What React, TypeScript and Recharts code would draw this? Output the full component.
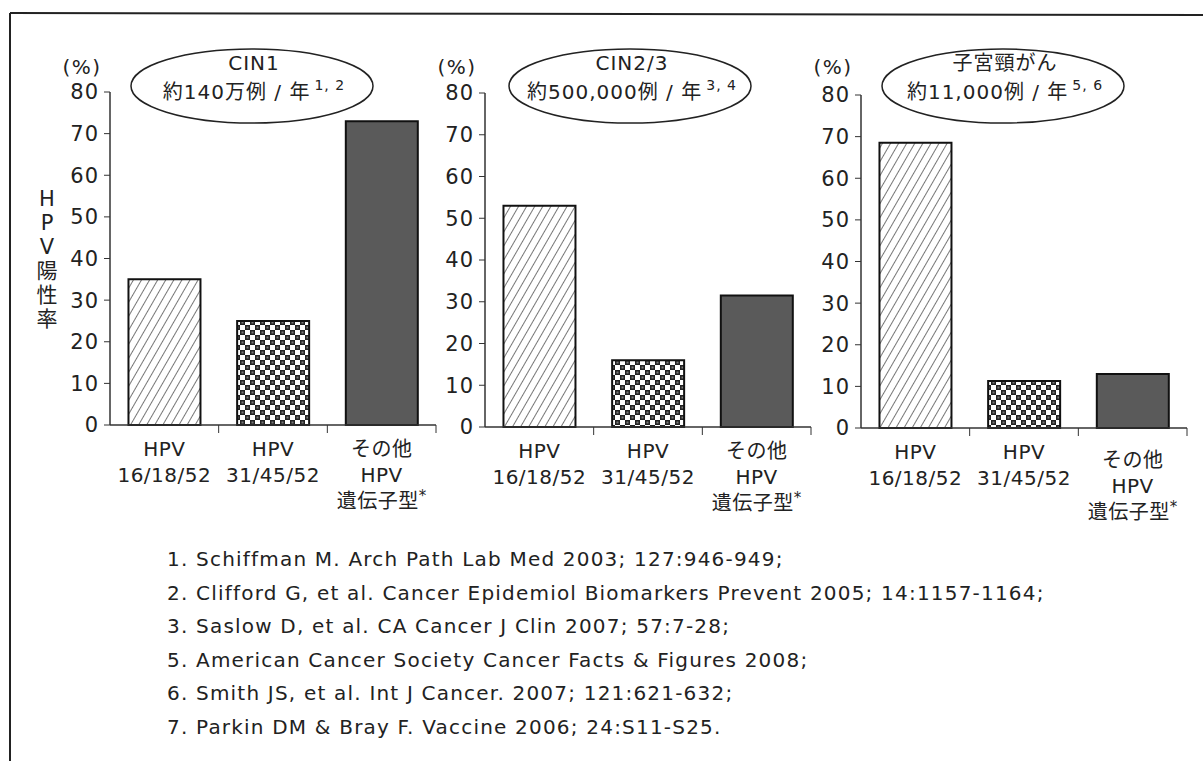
import React from "react";
import { BarChart, Bar, XAxis, YAxis, Cell } from "recharts";

const categories = ["HPV 16/18/52", "HPV 31/45/52", "その他 HPV 遺伝子型*"];
const cin1Values = [35, 25, 73];
const cin23Values = [53, 16, 31.5];
const cancerValues = [68.5, 11.3, 13];
const yTicks = [0, 10, 20, 30, 40, 50, 60, 70, 80];

const panelTitles = ["CIN1", "CIN2/3", "子宮頸がん"];
const panelCounts = ["約140万例 / 年", "約500,000例 / 年", "約11,000例 / 年"];
const panelRefs = ["1, 2", "3, 4", "5, 6"];
const yLabelChars = ["H", "P", "V", "陽", "性", "率"];

const references = [
  "1. Schiffman M. Arch Path Lab Med 2003; 127:946-949;",
  "2. Clifford G, et al. Cancer Epidemiol Biomarkers Prevent 2005; 14:1157-1164;",
  "3. Saslow D, et al. CA Cancer J Clin 2007; 57:7-28;",
  "5. American Cancer Society Cancer Facts & Figures 2008;",
  "6. Smith JS, et al. Int J Cancer. 2007; 121:621-632;",
  "7. Parkin DM & Bray F. Vaccine 2006; 24:S11-S25.",
];

const font = "'DejaVu Sans', 'Noto Sans CJK JP', sans-serif";
const ink = "#222";

// layout of the three panels (chart box left, top margin, height)
const panels = [
  { values: cin1Values, left: 0, top: 92, height: 520, ellipseX: 252, lastDrop: 0 },
  { values: cin23Values, left: 375, top: 93, height: 522, ellipseX: 630, lastDrop: 0 },
  { values: cancerValues, left: 751, top: 95, height: 523, ellipseX: 1003, lastDrop: 8 },
];
const chartWidth = 451;
const axisWidth = 110;
const rightMargin = 15;
const bandWidth = (chartWidth - axisWidth - rightMargin) / categories.length;

function CategoryTick(props: any) {
  const { x, y, payload, index, drop } = props;
  const lines = String(payload.value).split(" ");
  const edge = x + bandWidth / 2;
  const dy = index === categories.length - 1 ? drop : 0;
  return (
    <g>
      <line x1={edge} y1={y} x2={edge} y2={y + 8} stroke="#333" strokeWidth={1} />
      {lines.map((t, i) => (
        <text
          key={i}
          x={x}
          y={y + 31 + dy + i * 26}
          textAnchor="middle"
          fontSize={20}
          letterSpacing={0.5}
          fill={ink}
          fontFamily={font}
        >
          {t.endsWith("*") ? (
            <>
              {t.slice(0, -1)}
              <tspan dy={-7} fontSize={15}>*</tspan>
            </>
          ) : (
            t
          )}
        </text>
      ))}
    </g>
  );
}

function Panel({ idx }: { idx: number }) {
  const p = panels[idx];
  const data = categories.map((name, i) => ({ name, value: p.values[i] }));
  const fills = [`url(#hatch${idx})`, `url(#checker${idx})`, "#5a5a5a"];
  return (
    <div style={{ position: "absolute", left: p.left, top: 0 }}>
      <BarChart
        width={chartWidth}
        height={p.height}
        data={data}
        margin={{ top: p.top, right: rightMargin, bottom: 0, left: 0 }}
        barCategoryGap="17%"
      >
        <defs>
          <pattern id={`hatch${idx}`} patternUnits="userSpaceOnUse" width={7} height={10} patternTransform="rotate(30)">
            <rect width={7} height={10} fill="#fff" />
            <line x1={3.5} y1={0} x2={3.5} y2={10} stroke="#777" strokeWidth={1} />
          </pattern>
          <pattern id={`checker${idx}`} patternUnits="userSpaceOnUse" width={10} height={10}>
            <rect width={10} height={10} fill="#fff" />
            <rect x={0} y={0} width={5} height={5} fill="#222" />
            <rect x={5} y={5} width={5} height={5} fill="#222" />
            <rect x={1.5} y={1.5} width={2} height={2} fill="#777" />
            <rect x={6.5} y={6.5} width={2} height={2} fill="#777" />
          </pattern>
        </defs>
        <XAxis
          dataKey="name"
          height={95}
          interval={0}
          axisLine={{ stroke: "#333", strokeWidth: 1.5 }}
          tickLine={false}
          tickSize={0}
          tickMargin={0}
          tick={(tp: any) => <CategoryTick {...tp} drop={p.lastDrop} />}
        />
        <YAxis
          domain={[0, 80]}
          ticks={yTicks}
          interval={0}
          width={axisWidth}
          axisLine={{ stroke: "#333", strokeWidth: 1.5 }}
          tickLine={{ stroke: "#333" }}
          tickSize={6}
          tickMargin={5}
          tick={{ fontSize: 21, fill: ink, fontFamily: font, letterSpacing: 1 }}
        />
        <Bar dataKey="value" isAnimationActive={false} stroke="#111" strokeWidth={2}>
          {data.map((d, i) => (
            <Cell key={d.name} fill={fills[i]} />
          ))}
        </Bar>
      </BarChart>
    </div>
  );
}

export default function App() {
  return (
    <div style={{ position: "absolute", left: 0, top: 0, width: 1203, height: 761, background: "#fff", overflow: "hidden" }}>
      {panels.map((_, i) => (
        <Panel key={i} idx={i} />
      ))}
      <svg width={1203} height={761} style={{ position: "absolute", left: 0, top: 0, pointerEvents: "none" }} fontFamily={font}>
        <line x1={10} y1={13} x2={1203} y2={15} stroke={ink} strokeWidth={2} />
        <line x1={10} y1={13} x2={10} y2={761} stroke={ink} strokeWidth={2} />
        {yLabelChars.map((c, i) => (
          <text key={i} x={47} y={206 + i * 24} textAnchor="middle" fontSize={21} fill={ink}>
            {c}
          </text>
        ))}
        {panels.map((p, i) => (
          <g key={i}>
            <text x={p.left + 82} y={74} textAnchor="middle" fontSize={20} letterSpacing={1.5} fill={ink}>
              (%)
            </text>
            <ellipse cx={p.ellipseX} cy={86} rx={121} ry={37} fill="none" stroke={ink} strokeWidth={1.5} />
            <text x={p.ellipseX + 2} y={70} textAnchor="middle" fontSize={20} letterSpacing={1} fill={ink}>
              {panelTitles[i]}
            </text>
            <text x={p.ellipseX + 2} y={99} textAnchor="middle" fontSize={20} letterSpacing={1} fill={ink}>
              {panelCounts[i]}
              <tspan dx={4} dy={-9} fontSize={14}>
                {panelRefs[i]}
              </tspan>
            </text>
          </g>
        ))}
        {references.map((r, i) => (
          <text key={i} x={167} y={566 + i * 33.5} fontSize={20} letterSpacing={1.2} fill={ink}>
            {r}
          </text>
        ))}
      </svg>
    </div>
  );
}
